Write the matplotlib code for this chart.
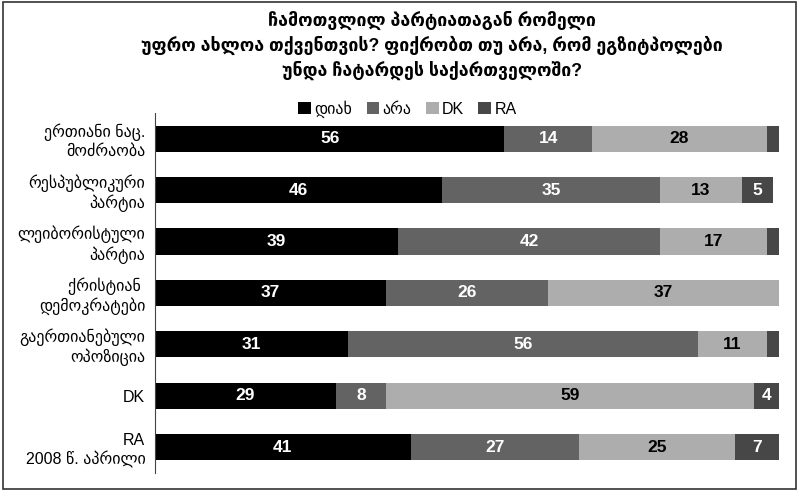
import matplotlib
matplotlib.use("Agg")
import matplotlib.pyplot as plt
import numpy as np

# data
categories = ["ერთიანი ნაც.\nმოძრაობა", "რესპუბლიკური\nპარტია", "ლეიბორისტული\nპარტია",
              "ქრისტიან \nდემოკრატები", "გაერთიანებული\nოპოზიცია", "DK", "RA\n2008 წ. აპრილი"]
series_names = ["დიახ", "არა", "DK", "RA"]
yes = [56, 46, 39, 37, 31, 29, 41]
no = [14, 35, 42, 26, 56, 8, 27]
dk = [28, 13, 17, 37, 11, 59, 25]
ra = [2, 5, 2, 0.7, 2, 4, 7]

colors = ["#000000", "#636363", "#adadad", "#474747"]
text_colors = ["white", "white", "black", "white"]
fam = ["Liberation Sans", "DejaVu Sans"]

plt.rcParams["font.family"] = fam

fig = plt.figure(figsize=(7.99, 4.91), dpi=100)
ax = fig.add_axes([0.194, 0.037, 0.781, 0.733])

y = np.arange(len(categories))
left = np.zeros(len(categories))
for vals, name, c, tc in zip([yes, no, dk, ra], series_names, colors, text_colors):
    vals = np.array(vals, dtype=float)
    ax.barh(y, vals, left=left, height=0.51, color=c, label=name)
    for yi, l, v in zip(y, left, vals):
        if v >= 3:
            ax.text(l + v / 2, yi, f"{v:.0f}", ha="center", va="center",
                    color=tc, fontsize=12.5, fontweight="bold")
    left += vals

ax.set_xlim(0, 100)
ax.set_ylim(len(categories) - 0.5, -0.5)
ax.set_yticks(y)
ax.set_yticklabels(categories, fontsize=11.5)
ax.tick_params(axis="y", length=0, pad=7)
ax.set_xticks([])
for s in ["top", "right", "bottom"]:
    ax.spines[s].set_visible(False)
ax.spines["left"].set_color("#444444")

# title
fig.text(0.541, 0.908,
         "ჩამოთვლილ პარტიათაგან რომელი\nუფრო ახლოა თქვენთვის? ფიქრობთ თუ არა, რომ ეგზიტპოლები\nუნდა ჩატარდეს საქართველოში?",
         ha="center", va="center", fontsize=12.8, fontweight="bold", linespacing=1.4)

fig.legend(loc="center", bbox_to_anchor=(0.51, 0.778), ncol=4, frameon=False,
           handlelength=0.8, handleheight=0.8, handletextpad=0.2, columnspacing=0.9,
           fontsize=11.5)

border = plt.Rectangle((0.004, 0.004), 0.992, 0.992, transform=fig.transFigure,
                       fill=False, edgecolor="#333333", linewidth=1.2)
fig.patches.append(border)

fig.savefig("out.png", dpi=100)
